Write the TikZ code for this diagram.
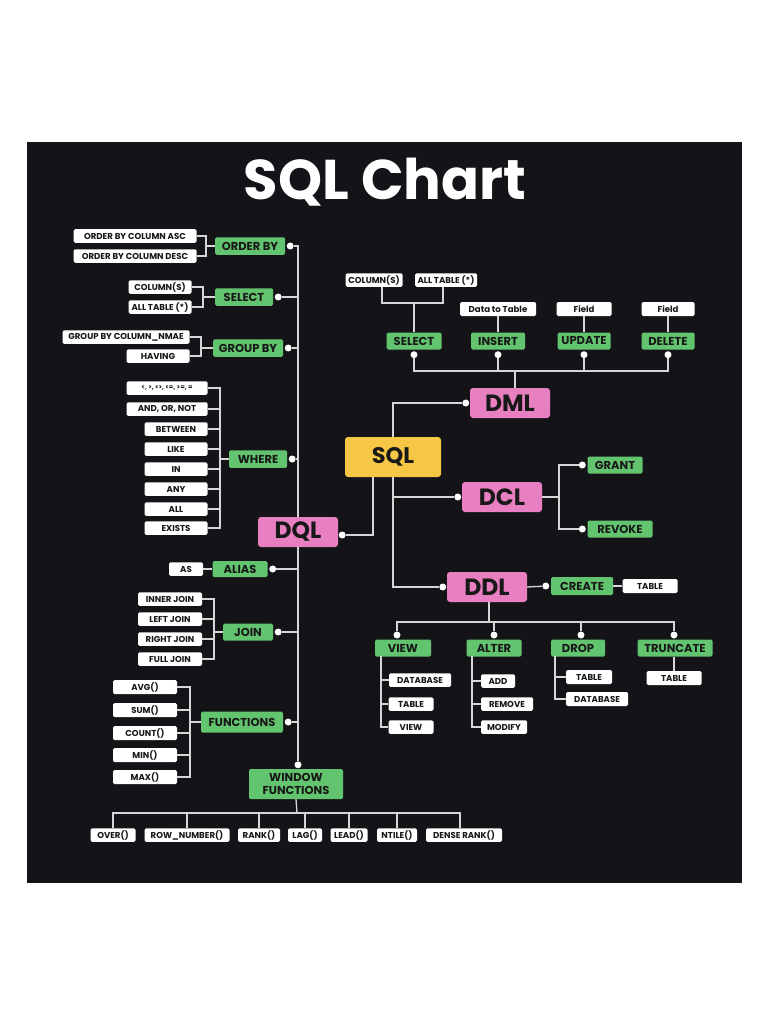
\documentclass[tikz,border=0pt]{standalone}
\usepackage{fontspec}
\setmainfont{Poppins}
\usepackage{tikz}
\usetikzlibrary{positioning, calc}
\definecolor{panelBg}{RGB}{20, 20, 24}
\definecolor{greenBoxBg}{RGB}{99, 196, 111}
\definecolor{pinkBoxBg}{RGB}{231, 127, 192}
\definecolor{yellowBoxBg}{RGB}{246, 199, 68}
\definecolor{inkFg}{RGB}{24, 24, 24}
\definecolor{wireFg}{RGB}{214, 214, 214}
\tikzstyle{wire} = [line width=1.3pt, draw=wireFg]
\tikzstyle{basic} = [rectangle, rounded corners=1.5pt, text centered, inner xsep=1pt, inner ysep=0pt, text=inkFg]
\tikzstyle{leaf} = [basic, fill=white, minimum height=13.5pt, font=\bfseries\fontsize{8.6}{9}\selectfont]
\tikzstyle{cmd} = [basic, fill=greenBoxBg, minimum height=17.5pt, font=\bfseries\fontsize{11.5}{12}\selectfont]
\tikzstyle{cat} = [basic, fill=pinkBoxBg, rounded corners=3pt, minimum width=80pt, minimum height=30pt, font=\bfseries\fontsize{23.5}{26}\selectfont]
\tikzstyle{root} = [basic, fill=yellowBoxBg, rounded corners=3pt, minimum width=96pt, minimum height=40pt, font=\bfseries\fontsize{22.5}{26}\selectfont]
\tikzstyle{dot} = [circle, fill=white, inner sep=0pt, minimum size=7pt]

\begin{document}
\begin{tikzpicture}[x=1pt, y=-1pt]
\useasboundingbox (0,0) rectangle (768,1024);
\fill [panelBg] (27,142) rectangle (742,883);

\node (title) [text=white, font=\bfseries\fontsize{56}{60}\selectfont] at (385,182) {SQL Chart};

% DQL side
\node (dql) [cat] at (298,532) {DQL};
\node (dqldot) [dot] at ($(dql.east)+(4,3)$) {};

\node (orderby) [cmd, minimum width=70pt] at (250,246) {ORDER BY};
\node (obdot) [dot] at ($(orderby.east)+(5,0)$) {};
\node (obasc) [leaf, minimum width=123pt] at (135,236) {ORDER BY COLUMN ASC};
\node (obdesc) [leaf, minimum width=123pt] at (135,256) {ORDER BY COLUMN DESC};
\coordinate (obfork) at (206,246);
\draw [wire] (obasc.east) -| (obfork) -- (orderby.west);
\draw [wire] (obdesc.east) -| (obfork);

\node (qselect) [cmd, minimum width=58pt] at (244,297) {SELECT};
\node (qseldot) [dot] at ($(qselect.east)+(5,0)$) {};
\node (qcols) [leaf, minimum width=63pt] at (160,287) {COLUMN(S)};
\node (qallt) [leaf, minimum width=63pt] at (160,307) {ALL TABLE (*)};
\coordinate (qselfork) at (203,297);
\draw [wire] (qcols.east) -| (qselfork) -- (qselect.west);
\draw [wire] (qallt.east) -| (qselfork);

\node (groupby) [cmd, minimum width=70pt] at (248,348) {GROUP BY};
\node (gbdot) [dot] at ($(groupby.east)+(5,0)$) {};
\node (gbcol) [leaf, minimum width=127pt] at (126,337) {GROUP BY COLUMN\_NMAE};
\node (having) [leaf, minimum width=63pt] at (158,356) {HAVING};
\coordinate (gbfork) at (201,348);
\draw [wire] (gbcol.east) -| (gbfork) -- (groupby.west);
\draw [wire] (having.east) -| (gbfork);

\node (where) [cmd, minimum width=58pt] at (258,459) {WHERE};
\node (wheredot) [dot] at ($(where.east)+(5,0)$) {};
\node (wops) [leaf, minimum width=81pt, font=\bfseries\fontsize{6.5}{7}\selectfont] at (167,388) {<, >, <>, <=, >=, =};
\node (wandor) [leaf, minimum width=81pt] at (167,409) {AND, OR, NOT};
\node (wbetween) [leaf, minimum width=63pt] at (176,429) {BETWEEN};
\node (wlike) [leaf, minimum width=63pt] at (176,449) {LIKE};
\node (win) [leaf, minimum width=63pt] at (176,469) {IN};
\node (wany) [leaf, minimum width=63pt] at (176,489) {ANY};
\node (wall) [leaf, minimum width=63pt] at (176,509) {ALL};
\node (wexists) [leaf, minimum width=63pt] at (176,528) {EXISTS};
\coordinate (wherefork) at (220,459);
\draw [wire] (wops.east) -| (wherefork) -- (where.west);
\draw [wire] (wandor.east) -| (wherefork);
\draw [wire] (wbetween.east) -| (wherefork);
\draw [wire] (wlike.east) -| (wherefork);
\draw [wire] (win.east) -| (wherefork);
\draw [wire] (wany.east) -| (wherefork);
\draw [wire] (wall.east) -| (wherefork);
\draw [wire] (wexists.east) -| (wherefork);

\node (alias) [cmd, minimum width=55pt, minimum height=16pt] at (240,569) {ALIAS};
\node (aliasdot) [dot] at ($(alias.east)+(5,0)$) {};
\node (as) [leaf, minimum width=34pt] at (186,569) {AS};
\draw [wire] (as.east) -- (alias.west);

\node (join) [cmd, minimum width=50pt, minimum height=17pt] at (248,632) {JOIN};
\node (joindot) [dot] at ($(join.east)+(5,0)$) {};
\node (jinner) [leaf, minimum width=64pt] at (170,599) {INNER JOIN};
\node (jleft) [leaf, minimum width=64pt] at (170,619) {LEFT JOIN};
\node (jright) [leaf, minimum width=64pt] at (170,639) {RIGHT JOIN};
\node (jfull) [leaf, minimum width=64pt] at (170,659) {FULL JOIN};
\coordinate (joinfork) at (214,632);
\draw [wire] (jinner.east) -| (joinfork) -- (join.west);
\draw [wire] (jleft.east) -| (joinfork);
\draw [wire] (jright.east) -| (joinfork);
\draw [wire] (jfull.east) -| (joinfork);

\node (functions) [cmd, minimum width=82pt, minimum height=21pt] at (242,722) {FUNCTIONS};
\node (fndot) [dot] at ($(functions.east)+(5,0)$) {};
\node (favg) [leaf, minimum width=64pt, minimum height=14pt] at (145,687) {AVG()};
\node (fsum) [leaf, minimum width=64pt, minimum height=14pt] at (145,710) {SUM()};
\node (fcount) [leaf, minimum width=64pt, minimum height=14pt] at (145,733) {COUNT()};
\node (fmin) [leaf, minimum width=64pt, minimum height=14pt] at (145,755) {MIN()};
\node (fmax) [leaf, minimum width=64pt, minimum height=14pt] at (145,777) {MAX()};
\coordinate (fnfork) at (190,722);
\draw [wire] (favg.east) -| (fnfork) -- (functions.west);
\draw [wire] (fsum.east) -| (fnfork);
\draw [wire] (fcount.east) -| (fnfork);
\draw [wire] (fmin.east) -| (fnfork);
\draw [wire] (fmax.east) -| (fnfork);

\node (window) [cmd, minimum width=94pt, minimum height=30pt, align=center, font=\bfseries\fontsize{11.5}{13}\selectfont] at (296,784) {WINDOW\\FUNCTIONS};
\node (wfdot) [dot] at ($(window.north)+(2,-4)$) {};

% spine
\coordinate (spinetop) at (298,246);
\draw [wire] (obdot) -- (spinetop) -- (dql.north);
\draw [wire] (dql.south) -- (wfdot);
\draw [wire] (qseldot) -- (qseldot -| spinetop);
\draw [wire] (gbdot) -- (gbdot -| spinetop);
\draw [wire] (wheredot) -- (wheredot -| spinetop);
\draw [wire] (aliasdot) -- (aliasdot -| spinetop);
\draw [wire] (joindot) -- (joindot -| spinetop);
\draw [wire] (fndot) -- (fndot -| spinetop);

\node (over) [leaf, minimum width=45pt] at (113,835) {OVER()};
\node (rownum) [leaf, minimum width=85pt] at (187,835) {ROW\_NUMBER()};
\node (rank) [leaf, minimum width=42pt] at (259,835) {RANK()};
\node (lag) [leaf, minimum width=34pt] at (305,835) {LAG()};
\node (lead) [leaf, minimum width=37pt] at (349,835) {LEAD()};
\node (ntile) [leaf, minimum width=40pt] at (397,835) {NTILE()};
\node (dense) [leaf, minimum width=76pt] at (464,835) {DENSE RANK()};
\coordinate (wfbar) at (297,813);
\draw [wire] (window.south) -- (wfbar);
\draw [wire] (over.north) |- (wfbar);
\draw [wire] ($(dense.north)+(-4,0)$) |- (wfbar);
\draw [wire] (rownum.north) -- (rownum.north |- wfbar);
\draw [wire] (rank.north) -- (rank.north |- wfbar);
\draw [wire] (lag.north) -- (lag.north |- wfbar);
\draw [wire] (lead.north) -- (lead.north |- wfbar);
\draw [wire] (ntile.north) -- (ntile.north |- wfbar);

% SQL and the other groups
\node (sql) [root] at (393,457) {SQL};
\node (dml) [cat] at (510,403) {DML};
\node (dmldot) [dot] at ($(dml.west)+(-4,0)$) {};
\node (dcl) [cat] at (502,497) {DCL};
\node (dcldot) [dot] at ($(dcl.west)+(-4,0)$) {};
\node (ddl) [cat] at (487,587) {DDL};
\node (ddldot) [dot] at ($(ddl.west)+(-4,0)$) {};

\draw [wire] (dmldot) -| (sql.north);
\draw [wire] (sql.south) |- (ddldot);
\draw [wire] (dcldot) -- (dcldot -| sql.south);
\draw [wire] ($(sql.south)+(-20,0)$) |- (dqldot);

% DML
\node (dselect) [cmd, minimum width=55pt, minimum height=17pt] at (414,341) {SELECT};
\node (insert) [cmd, minimum width=54pt, minimum height=17pt] at (498,341) {INSERT};
\node (update) [cmd, minimum width=53pt, minimum height=17pt] at (584,341) {UPDATE};
\node (delete) [cmd, minimum width=53pt, minimum height=17pt] at (668,341) {DELETE};
\node (dseldot) [dot] at ($(dselect.south)+(0,5)$) {};
\node (insdot) [dot] at ($(insert.south)+(0,5)$) {};
\node (upddot) [dot] at ($(update.south)+(0,5)$) {};
\node (deldot) [dot] at ($(delete.south)+(0,5)$) {};
\coordinate (dmlbar) at (515,371);
\draw [wire] (dml.north -| dmlbar) -- (dmlbar);
\draw [wire] (dseldot) |- (dmlbar);
\draw [wire] (deldot) |- (dmlbar);
\draw [wire] (insdot) -- (insdot |- dmlbar);
\draw [wire] (upddot) -- (upddot |- dmlbar);

\node (dcols) [leaf, minimum width=57pt] at (374,280) {COLUMN(S)};
\node (dallt) [leaf, minimum width=62pt] at (446,280) {ALL TABLE (*)};
\coordinate (dselfork) at (414,303);
\draw [wire] ($(dcols.south)+(8,0)$) |- (dselfork);
\draw [wire] ($(dallt.south)+(-3,0)$) |- (dselfork);
\draw [wire] (dselfork) -- (dselect.north);

\node (datatable) [leaf, minimum width=76pt, minimum height=14pt] at (498,309) {Data to Table};
\node (updfield) [leaf, minimum width=55pt, minimum height=14pt] at (584,309) {Field};
\node (delfield) [leaf, minimum width=53pt, minimum height=14pt] at (668,309) {Field};
\draw [wire] (datatable.south) -- (insert.north);
\draw [wire] (updfield.south) -- (update.north);
\draw [wire] (delfield.south) -- (delete.north);

% DCL
\node (grant) [cmd, minimum width=55pt, minimum height=17pt] at (615,465) {GRANT};
\node (revoke) [cmd, minimum width=65pt, minimum height=17pt] at (620,529) {REVOKE};
\node (grantdot) [dot] at ($(grant.west)+(-5,0)$) {};
\node (revokedot) [dot] at ($(revoke.west)+(-5,0)$) {};
\coordinate (dclfork) at (559,497);
\draw [wire] (dcl.east) -- (dclfork);
\draw [wire] (grantdot) -| (dclfork);
\draw [wire] (revokedot) -| (dclfork);

% DDL
\node (create) [cmd, minimum width=62pt, minimum height=18pt] at (582,586) {CREATE};
\node (createdot) [dot] at ($(create.west)+(-5,0)$) {};
\node (ctable) [leaf, minimum width=55pt, minimum height=14pt] at (650,586) {TABLE};
\draw [wire] (ddl.east) -- (createdot);
\draw [wire] (create.east) -- (ctable.west);

\node (view) [cmd, minimum width=56pt, minimum height=17pt] at (403,648) {VIEW};
\node (alter) [cmd, minimum width=55pt, minimum height=17pt] at (494,648) {ALTER};
\node (drop) [cmd, minimum width=54pt, minimum height=17pt] at (578,648) {DROP};
\node (truncate) [cmd, minimum width=75pt, minimum height=17pt] at (675,648) {TRUNCATE};
\node (viewdot) [dot] at (397,635) {};
\node (alterdot) [dot] at (494,635) {};
\node (dropdot) [dot] at (581,635) {};
\node (truncdot) [dot] at (674,635) {};
\coordinate (ddlbar) at (489,622);
\draw [wire] (ddl.south -| ddlbar) -- (ddlbar);
\draw [wire] (viewdot) |- (ddlbar);
\draw [wire] (truncdot) |- (ddlbar);
\draw [wire] (alterdot) -- (alterdot |- ddlbar);
\draw [wire] (dropdot) -- (dropdot |- ddlbar);

\node (vdatabase) [leaf, minimum width=62pt] at (420,680) {DATABASE};
\node (vtable) [leaf, minimum width=45pt] at (411,704) {TABLE};
\node (vview) [leaf, minimum width=45pt] at (411,727) {VIEW};
\coordinate (viewrail) at (381,656);
\draw [wire] (viewrail) |- (vview.west);
\draw [wire] (vdatabase.west) -- (vdatabase.west -| viewrail);
\draw [wire] (vtable.west) -- (vtable.west -| viewrail);

\node (aadd) [leaf, minimum width=34pt] at (498,681) {ADD};
\node (aremove) [leaf, minimum width=52pt] at (507,704) {REMOVE};
\node (amodify) [leaf, minimum width=46pt] at (504,727) {MODIFY};
\coordinate (alterrail) at (472,656);
\draw [wire] (alterrail) |- (amodify.west);
\draw [wire] (aadd.west) -- (aadd.west -| alterrail);
\draw [wire] (aremove.west) -- (aremove.west -| alterrail);

\node (dtable) [leaf, minimum width=46pt, minimum height=14pt] at (589,677) {TABLE};
\node (ddatabase) [leaf, minimum width=62pt, minimum height=14pt] at (597,699) {DATABASE};
\coordinate (droprail) at (555,656);
\draw [wire] (droprail) |- (ddatabase.west);
\draw [wire] (dtable.west) -- (dtable.west -| droprail);

\node (ttable) [leaf, minimum width=55pt, minimum height=14pt] at (674,678) {TABLE};
\draw [wire] (truncate.south -| ttable.north) -- (ttable.north);

\end{tikzpicture}
\end{document}
